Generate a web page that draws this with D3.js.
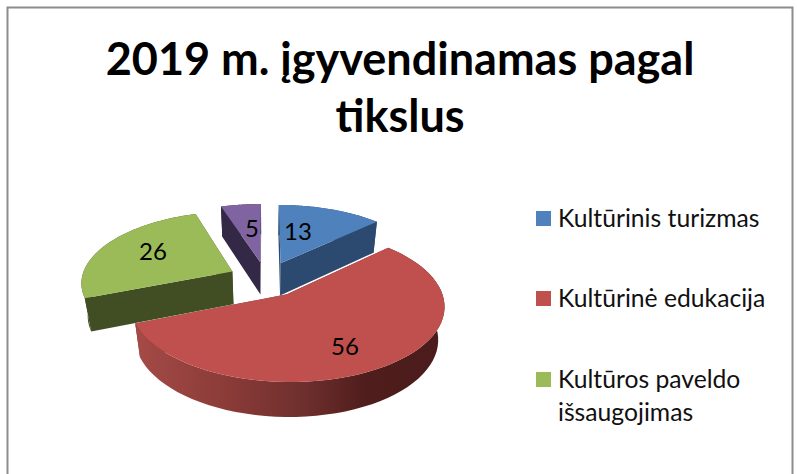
<!DOCTYPE html>
<html><head><meta charset="utf-8">
<script src="https://cdn.jsdelivr.net/npm/d3@7/dist/d3.min.js"></script>
<style>html,body{margin:0;padding:0;background:#fff}svg{display:block}</style>
</head><body><svg id="c" width="797" height="474"></svg>
<script>
const titleLines = ["2019 m. įgyvendinamas pagal", "tikslus"];
const sliceValues = [13, 56, 26, 5];
const legendLabels = [["Kultūrinis turizmas"], ["Kultūrinė edukacija"], ["Kultūros paveldo", "išsaugojimas"]];
const topColors = ["#4f81bd", "#c0504d", "#9bbb59", "#8064a2"];
const wallColors = ["#2c4a6f", "#6e2f2d", "#414d22", "#332845"];
const drawOrder = [3, 0, 2, 1];

const svg = d3.select("#c");
const FONT = "Lato, 'Open Sans', sans-serif";

svg.append("path").attr("d", "M7.5,480V7.5H792.5V480").attr("fill", "none").attr("stroke", "#8c8c8c").attr("stroke-width", 2);

// perspective projection of the tilted pie
const cx = 266, cy = 279, A = 151, B = 70.6, K = 0.14, M = 0.035, Z = 33.9, EXPLODE = 0.25;
const project = (u, v, z) => {
  const w = 1 + K * v + M * z;
  return [cx + A * u / w, cy - (B * v - Z * z) / w];
};
const pie = d3.pie().sort(null).value(d => d);
const arcs = pie(sliceValues);
const line = d3.line();

const defs = svg.append("defs");
const grad = defs.append("linearGradient").attr("id", "redWall").attr("gradientUnits", "userSpaceOnUse")
  .attr("x1", 136).attr("x2", 443).attr("y1", 0).attr("y2", 0);
[[0, "#a54a47"], [0.3, "#8a3b38"], [0.55, "#6e2f2d"], [0.75, "#4f1d1c"], [1, "#4a1c1b"]]
  .forEach(([o, c]) => grad.append("stop").attr("offset", o).attr("stop-color", c));

const g = svg.append("g");
drawOrder.forEach(i => {
  const d = arcs[i];
  const mid = (d.startAngle + d.endAngle) / 2;
  const ou = EXPLODE * Math.sin(mid), ov = EXPLODE * Math.cos(mid);
  const angles = d3.range(0, 61).map(k => d.startAngle + (d.endAngle - d.startAngle) * k / 60);
  const rim = z => angles.map(a => project(ou + Math.sin(a), ov + Math.cos(a), z));
  const apex = z => project(ou, ov, z);
  const wall = i === 1 ? "url(#redWall)" : wallColors[i];

  // radial walls
  [d.startAngle, d.endAngle].forEach(a => {
    const e = z => project(ou + Math.sin(a), ov + Math.cos(a), z);
    g.append("path").attr("d", line([apex(0), e(0), e(1), apex(1)]) + "Z").attr("fill", wallColors[i]);
  });
  // outer wall
  g.append("path").attr("d", line(rim(0).concat(rim(1).reverse())) + "Z").attr("fill", wall);
  // top face
  g.append("path").attr("d", line([apex(0)].concat(rim(0))) + "Z").attr("fill", topColors[i]);
});

// value labels
const labelPos = [[298, 234], [345, 349], [153, 254], [252, 231]];
svg.append("g").selectAll("text").data(sliceValues).join("text")
  .attr("x", (d, i) => labelPos[i][0]).attr("y", (d, i) => labelPos[i][1])
  .attr("text-anchor", "middle").attr("dominant-baseline", "middle")
  .attr("font-family", FONT).attr("font-size", 24).attr("fill", "#000").text(d => d);

// title
svg.append("g").selectAll("text").data(titleLines).join("text")
  .attr("x", 400).attr("y", (d, i) => 75 + i * 57)
  .attr("text-anchor", "middle").attr("font-family", FONT).attr("font-weight", 700)
  .attr("font-size", 45).attr("fill", "#000").text(d => d);

// legend
const legendY = [211, 291, 372];
const lg = svg.append("g");
legendLabels.forEach((lines, i) => {
  lg.append("rect").attr("x", 536).attr("y", legendY[i]).attr("width", 15).attr("height", 15).attr("fill", topColors[i]);
  lines.forEach((t, j) => lg.append("text").attr("x", 558).attr("y", legendY[i] + 15.5 + j * 33)
    .attr("font-family", FONT).attr("font-size", 24.7).attr("fill", "#111").text(t));
});
</script></body></html>
